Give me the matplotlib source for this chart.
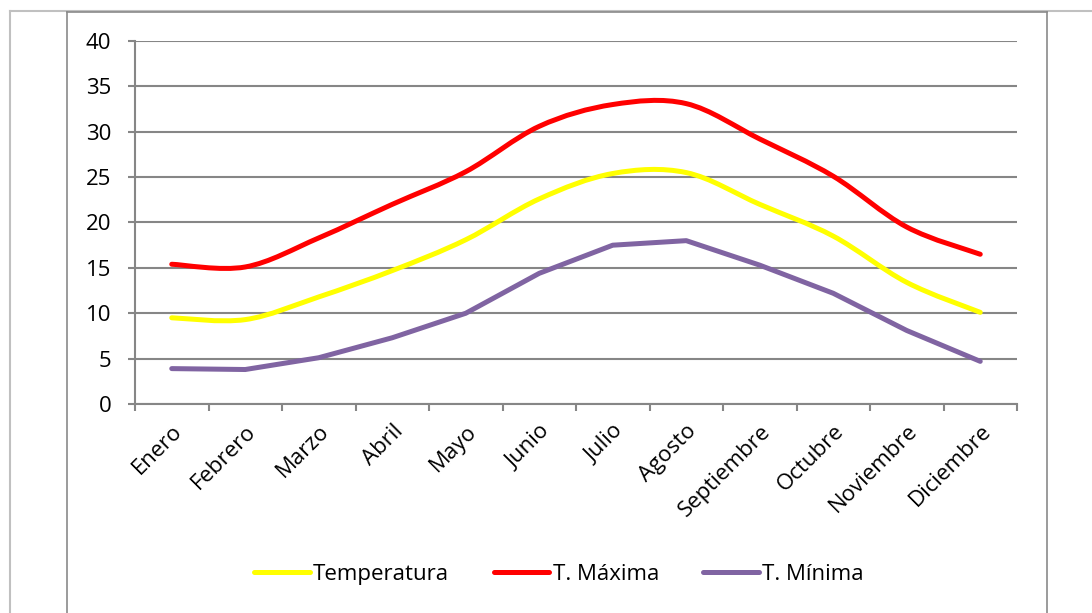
import matplotlib
matplotlib.use("Agg")
import matplotlib.pyplot as plt
from matplotlib.path import Path
from matplotlib.patches import PathPatch
from matplotlib.lines import Line2D
import numpy as np

plt.rcParams['font.family'] = ['Open Sans', 'DejaVu Sans']

meses = ['Enero', 'Febrero', 'Marzo', 'Abril', 'Mayo', 'Junio', 'Julio',
         'Agosto', 'Septiembre', 'Octubre', 'Noviembre', 'Diciembre']
temperatura = [9.5, 9.3, 11.8, 14.7, 18.1, 22.6, 25.4, 25.5, 22.0, 18.5, 13.4, 10.1]
t_maxima = [15.4, 15.1, 18.3, 22.0, 25.6, 30.6, 33.0, 33.1, 29.2, 25.1, 19.5, 16.5]
t_minima = [3.9, 3.8, 5.1, 7.3, 10.0, 14.4, 17.5, 18.0, 15.3, 12.2, 8.1, 4.7]

yticks = [0, 5, 10, 15, 20, 25, 30, 35, 40]

AMARILLO = '#FFFF00'
ROJO = '#FF0000'
MORADO = '#8064A2'
GRIS = '#868686'
FS = 16


def curva_suave(x, y):
    # bezier tipo Excel (catmull-rom) entre los puntos
    x = np.asarray(x, float)
    y = np.asarray(y, float)
    n = len(x)
    verts = [(x[0], y[0])]
    codes = [Path.MOVETO]
    for i in range(n - 1):
        p0 = np.array([x[max(i - 1, 0)], y[max(i - 1, 0)]])
        p1 = np.array([x[i], y[i]])
        p2 = np.array([x[i + 1], y[i + 1]])
        p3 = np.array([x[min(i + 2, n - 1)], y[min(i + 2, n - 1)]])
        c1 = p1 + (p2 - p0) / 6.0
        c2 = p2 - (p3 - p1) / 6.0
        verts += [tuple(c1), tuple(c2), tuple(p2)]
        codes += [Path.CURVE4] * 3
    return Path(verts, codes)


fig = plt.figure(figsize=(10.92, 6.13), dpi=100)
ax = fig.add_axes([135 / 1092, 1 - 404 / 613, (1017 - 135) / 1092, (404 - 41) / 613])

x = np.arange(len(meses))

for serie, color in [(temperatura, AMARILLO), (t_maxima, ROJO)]:
    patch = PathPatch(curva_suave(x, serie), facecolor='none', edgecolor=color,
                      lw=3.6, capstyle='round', joinstyle='round', zorder=3)
    ax.add_patch(patch)
ax.plot(x, t_minima, color=MORADO, lw=3.6, solid_capstyle='round',
        solid_joinstyle='round', zorder=3)

ax.set_xlim(-0.5, len(meses) - 0.5)
ax.set_ylim(0, 40)
ax.set_yticks(yticks)
ax.set_yticklabels([str(v) for v in yticks], fontsize=FS)
ax.yaxis.grid(True, color=GRIS, lw=1.5)
ax.set_axisbelow(True)

ax.set_xticks(np.arange(-0.5, len(meses), 1.0))
ax.set_xticklabels([])
ax.set_xticks(x, minor=True)
ax.set_xticklabels(meses, minor=True, rotation=45, ha='right', va='top',
                   rotation_mode='anchor', fontsize=FS)
ax.tick_params(axis='x', which='minor', length=0, pad=12)
ax.tick_params(axis='x', which='major', length=5, width=1.5, color=GRIS, direction='out')
ax.tick_params(axis='y', length=5, width=1.5, color=GRIS, direction='out', pad=12)

for lado in ['top', 'right']:
    ax.spines[lado].set_visible(False)
for lado in ['left', 'bottom']:
    ax.spines[lado].set_color(GRIS)
    ax.spines[lado].set_linewidth(1.5)

handles = [Line2D([], [], color=AMARILLO, lw=3.6, solid_capstyle='round'),
           Line2D([], [], color=ROJO, lw=3.6, solid_capstyle='round'),
           Line2D([], [], color=MORADO, lw=3.6, solid_capstyle='round')]
fig.legend(handles, ['Temperatura', 'T. Máxima', 'T. Mínima'], loc='center',
           bbox_to_anchor=(0.512, 0.063), ncol=3, frameon=False, fontsize=FS,
           handlelength=2.5, handletextpad=0.15, columnspacing=2.0)

# marcos de la hoja
fig.add_artist(Line2D([10 / 1092, 1.0], [1 - 11 / 613] * 2, color='#C0C0C0', lw=1.5))
fig.add_artist(Line2D([10 / 1092] * 2, [0, 1 - 11 / 613], color='#C0C0C0', lw=1.5))
fig.add_artist(Line2D([67 / 1092, 1047 / 1092], [1 - 12 / 613] * 2, color='#8A8A8A', lw=1.2))
fig.add_artist(Line2D([67 / 1092] * 2, [0, 1 - 12 / 613], color='#8A8A8A', lw=1.2))
fig.add_artist(Line2D([1047 / 1092] * 2, [0, 1 - 12 / 613], color='#8A8A8A', lw=1.2))

fig.savefig('out.png', dpi=100)
